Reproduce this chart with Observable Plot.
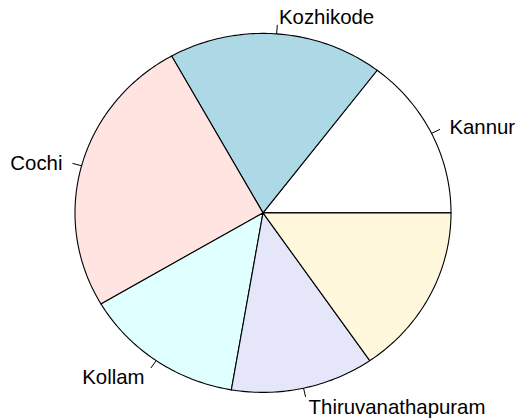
<!DOCTYPE html>
<html>
<head>
<meta charset="utf-8">
<script src="https://cdn.jsdelivr.net/npm/d3@7"></script>
<script src="https://cdn.jsdelivr.net/npm/@observablehq/plot@0.6"></script>
<style>
  html, body { margin: 0; padding: 0; background: #ffffff; }
  #chart svg { display: block; }
</style>
</head>
<body>
<div id="chart"></div>
<script>
// Data
const categories = ["Kannur", "Kozhikode", "Cochi", "Kollam", "Thiruvanathapuram", ""];
const values = [19, 24, 33, 18, 16, 20];
const colors = ["#FFFFFF", "#ADD8E6", "#FFE4E1", "#E0FFFF", "#E6E6FA", "#FFF8DC"];

const total = d3.sum(values);
const slices = [];
let acc = 0;
categories.forEach((name, i) => {
  const a0 = (acc / total) * 2 * Math.PI;
  acc += values[i];
  const a1 = (acc / total) * 2 * Math.PI;
  slices.push({ name, a0, a1, color: colors[i], mid: (a0 + a1) / 2 });
});

// polygon points per slice (R pie: counter-clockwise from 3 o'clock)
function slicePoints(s) {
  const pts = [{ x: 0, y: 0 }];
  const n = Math.max(2, Math.ceil((s.a1 - s.a0) / (2 * Math.PI) * 400));
  for (let k = 0; k <= n; k++) {
    const a = s.a0 + (s.a1 - s.a0) * k / n;
    pts.push({ x: Math.cos(a), y: Math.sin(a) });
  }
  pts.push({ x: 0, y: 0 });
  return pts;
}

const labeled = slices.filter(s => s.name !== "");
const ticks = labeled.map(s => ({
  x1: Math.cos(s.mid), y1: Math.sin(s.mid),
  x2: 1.05 * Math.cos(s.mid), y2: 1.05 * Math.sin(s.mid)
}));
const labels = labeled.map(s => ({
  name: s.name, x: 1.1 * Math.cos(s.mid), y: 1.1 * Math.sin(s.mid)
}));

const W = 515, H = 418;
const cx = 262.5, cy = 212.4, rx = 188, ry = 179.5;

const fontFamily = "'Liberation Sans', Arial, Helvetica, sans-serif";

const chart = Plot.plot({
  width: W,
  height: H,
  margin: 0,
  style: { background: "#ffffff", fontFamily },
  x: { domain: [-cx / rx, (W - cx) / rx], range: [0, W], axis: null },
  y: { domain: [-(H - cy) / ry, cy / ry], range: [H, 0], axis: null },
  marks: [
    ...slices.map(s => Plot.line(slicePoints(s), {
      x: "x", y: "y", fill: s.color, stroke: "#000000", strokeWidth: 1.1, strokeLinejoin: "round"
    })),
    Plot.link(ticks, { x1: "x1", y1: "y1", x2: "x2", y2: "y2", stroke: "#000000", strokeWidth: 1 }),
    Plot.text(labels.filter(d => d.x >= 0), {
      x: "x", y: "y", text: "name", textAnchor: "start", fontSize: 20.4, dx: 1, dy: 2, fill: "#000000", fontFamily
    }),
    Plot.text(labels.filter(d => d.x < 0), {
      x: "x", y: "y", text: "name", textAnchor: "end", fontSize: 20.4, dx: -1, dy: 2, fill: "#000000", fontFamily
    })
  ]
});

document.getElementById("chart").appendChild(chart);
</script>
</body>
</html>
